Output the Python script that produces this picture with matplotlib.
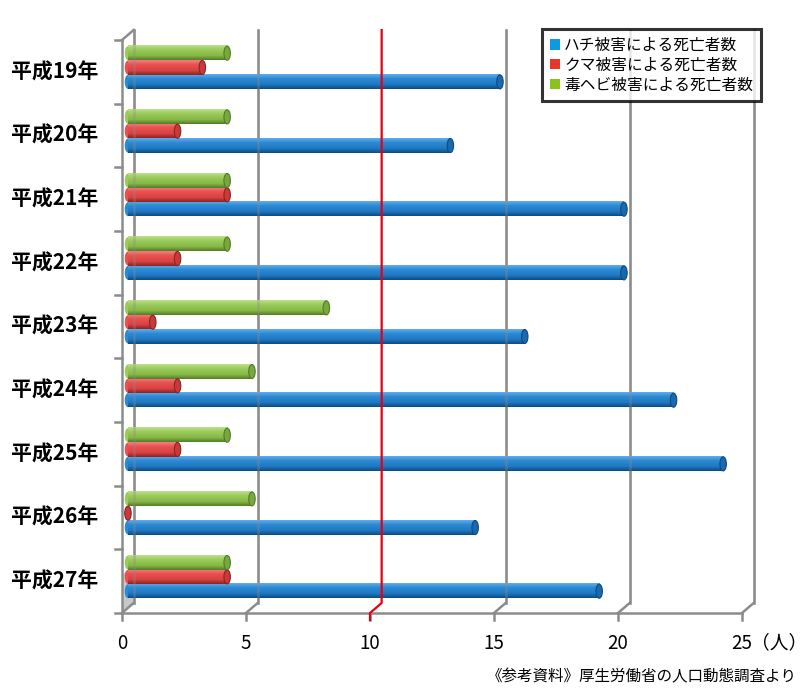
import numpy as np
import matplotlib
matplotlib.use("Agg")
import matplotlib.pyplot as plt
from matplotlib.colors import LinearSegmentedColormap
from matplotlib.patches import Ellipse, Patch, Polygon

plt.rcParams['font.family'] = ['Noto Sans CJK JP', 'DejaVu Sans']

# data (top to bottom)
years = ["平成19年", "平成20年", "平成21年", "平成22年", "平成23年",
         "平成24年", "平成25年", "平成26年", "平成27年"]
bee = [15, 13, 20, 20, 16, 22, 24, 14, 19]
bear = [3, 2, 4, 2, 1, 2, 2, 0, 4]
snake = [4, 4, 4, 4, 8, 5, 4, 5, 4]
series_names = ["ハチ被害による死亡者数", "クマ被害による死亡者数", "毒ヘビ被害による死亡者数"]
legend_colors = ["#0a9be3", "#e8362b", "#8cc21e"]
xticks = [0, 5, 10, 15, 20, 25]

# cylinder shading, top -> bottom
grads = [
    ["#62aee8", "#2c8ad4", "#1f78c2", "#0e4a80"],
    ["#f48080", "#ea5050", "#d94242", "#8a2424"],
    ["#bde088", "#9bcb5c", "#87b946", "#527c28"],
]
cap_cols = ["#1a69ad", "#c83a3a", "#78a83e"]

fig = plt.figure(figsize=(8.06, 6.92), dpi=100)
ax = fig.add_axes([122 / 806, 79 / 692, 620 / 806, 573 / 692])
ax.set_xlim(0, 25)
ax.set_ylim(0, 9)
ax.axis("off")

dx, dy = 0.47, 0.157
top = 9 + dy
grid_c = "#8c8c8c"

# left side wall shade near floor
ax.add_patch(Polygon([(0, 0), (dx, dy), (dx, 0.75), (0, 0.6)], closed=True,
                     facecolor="#c8c8c8", edgecolor="none", zorder=1, clip_on=False))

# back wall grid lines and floor bevels
for x in xticks:
    if x == 10:
        continue
    ax.plot([x + dx, x + dx], [dy, top], color=grid_c, lw=1.8, zorder=1, clip_on=False)
    ax.plot([x, x + dx], [0, dy], color=grid_c, lw=1.8, zorder=1, clip_on=False)
for x in xticks:
    ax.plot([x, x], [-0.11, 0], color=grid_c, lw=1.8, zorder=1, clip_on=False)
ax.plot([0, 25], [0, 0], color=grid_c, lw=1.8, zorder=1, clip_on=False)

# left wall
ax.plot([0, 0], [0, 9], color=grid_c, lw=1.8, zorder=1, clip_on=False)
ax.plot([0, dx], [9, top], color=grid_c, lw=1.8, zorder=1, clip_on=False)
for yv in range(10):
    ax.plot([-0.28, 0], [yv, yv], color=grid_c, lw=1.8, zorder=1, clip_on=False)

# bars
x0 = 0.24
bh = 0.225
offsets = [0.23, 0.23 + bh, 0.23 + 2 * bh]
capw = 0.26
grad_img = np.linspace(0, 1, 64).reshape(-1, 1)
for s, vals in enumerate([bee, bear, snake]):
    cmap = LinearSegmentedColormap.from_list("c%d" % s, list(zip([0, 0.3, 0.7, 1], grads[s])))
    for k, v in enumerate(vals):
        yb = 8 - k + offsets[s]
        # left rounded end
        ax.add_patch(Ellipse((x0, yb + bh / 2), capw, bh * 0.98,
                             facecolor=grads[s][1], edgecolor="none", zorder=3))
        if v > 0:
            ax.imshow(grad_img, cmap=cmap, aspect="auto", origin="upper",
                      extent=[x0, x0 + v, yb, yb + bh], zorder=4)
        ax.add_patch(Ellipse((x0 + v, yb + bh / 2), capw, bh * 0.98,
                             facecolor=cap_cols[s], edgecolor=grads[s][3],
                             lw=0.8, zorder=5))

# faint grid showing through bars
for x in xticks:
    if x == 10:
        continue
    ax.plot([x + dx, x + dx], [dy, top], color=grid_c, lw=1.8, alpha=0.35,
            zorder=6, clip_on=False)

# red line at 10
ax.plot([10, 10, 10 + dx, 10 + dx], [-0.11, 0.0, dy, top], color="#e60012",
        lw=1.6, zorder=7, clip_on=False)

ax.set_xlim(0, 25)
ax.set_ylim(0, 9)

# labels
for k, name in enumerate(years):
    ax.text(-0.97, 8 - k + 0.5, name, ha="right", va="center", fontsize=15,
            fontweight="bold", color="black", clip_on=False)
for x in xticks:
    ax.text(x, -0.48, str(x), ha="center", va="center", fontsize=13.5, clip_on=False)
fig.text(751 / 806, 1 - 643 / 692, "（人）", ha="left", va="center", fontsize=13.5)
fig.text(797 / 806, 1 - 677 / 692, "《参考資料》厚生労働省の人口動態調査より",
         ha="right", va="center", fontsize=11.2)

handles = [Patch(facecolor=c, edgecolor="none") for c in legend_colors]
leg = ax.legend(handles, series_names, loc="upper left",
                bbox_to_anchor=(542 / 806, 1 - 29 / 692),
                bbox_transform=fig.transFigure, borderaxespad=0,
                fontsize=11.3, frameon=True, fancybox=False,
                handlelength=0.65, handleheight=0.65, handletextpad=0.25,
                labelspacing=0.18, borderpad=0.5)
leg.get_frame().set_edgecolor("black")
leg.get_frame().set_linewidth(2.2)
leg.set_zorder(10)

fig.savefig("out.png", dpi=100)
